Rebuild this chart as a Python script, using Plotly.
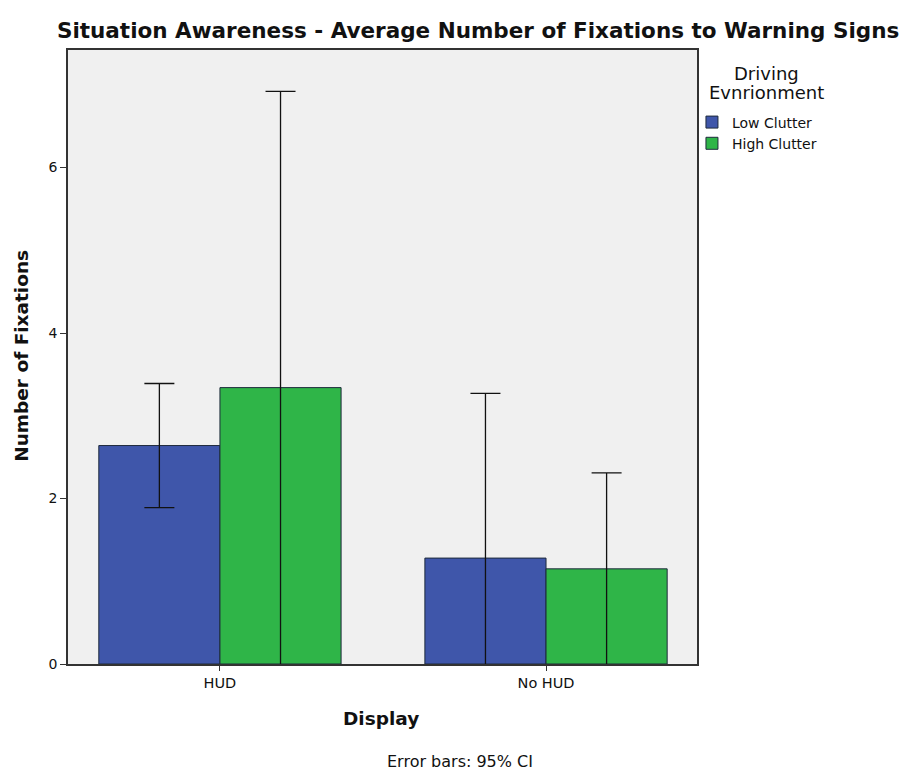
import plotly.graph_objects as go

categories = ["HUD", "No HUD"]
low_clutter = [2.64, 1.28]
low_err_plus = [0.75, 1.99]
low_err_minus = [0.75, 1.99]
high_clutter = [3.34, 1.15]
high_err_plus = [3.58, 1.16]
high_err_minus = [3.58, 1.16]
y_ticks = [0, 2, 4, 6]

blue = "#3F56AA"
green = "#2FB548"
edge = "#1E2A3C"
FONT = "DejaVu Sans, Verdana, sans-serif"

fig = go.Figure()
fig.add_trace(go.Bar(
    x=categories, y=low_clutter, name="Low Clutter",
    marker=dict(color=blue, line=dict(color=edge, width=1)),
    error_y=dict(type="data", array=low_err_plus, arrayminus=low_err_minus,
                 color="#111111", thickness=1.3, width=15),
))
fig.add_trace(go.Bar(
    x=categories, y=high_clutter, name="High Clutter",
    marker=dict(color=green, line=dict(color=edge, width=1)),
    error_y=dict(type="data", array=high_err_plus, arrayminus=high_err_minus,
                 color="#111111", thickness=1.3, width=15),
))

fig.update_layout(
    width=899, height=765,
    paper_bgcolor="white", plot_bgcolor="#F0F0F0",
    margin=dict(l=60, r=210, t=42, b=109, autoexpand=False),
    barmode="group", bargap=0.257, bargroupgap=0,
    font=dict(family=FONT, color="#111111"),
    title=dict(text="<b>Situation Awareness - Average Number of Fixations to Warning Signs</b>",
               xref="paper", x=0.652, xanchor="center", y=0.971, yanchor="middle",
               font=dict(size=21.5, color="#111111")),
    legend=dict(
        x=0.992, xanchor="left", y=0.908, yanchor="top",
        font=dict(size=14), tracegroupgap=0, itemwidth=30,
        bgcolor="rgba(0,0,0,0)",
    ),
    showlegend=True,
)

fig.update_xaxes(
    range=[-0.466, 1.463],
    showline=True, linecolor="#333333", linewidth=1.5, mirror=True,
    ticks="outside", ticklen=5, tickcolor="#333333",
    tickfont=dict(size=14.5),
)
fig.update_yaxes(
    range=[0, 7.42], tickvals=y_ticks,
    showgrid=False, zeroline=False,
    showline=True, linecolor="#333333", linewidth=1.5, mirror=True,
    ticks="outside", ticklen=6, tickcolor="#333333",
    tickfont=dict(size=14),
)

def note(text, x, y, size, bold=False, angle=0):
    fig.add_annotation(
        text=f"<b>{text}</b>" if bold else text, xref="paper", yref="paper",
        x=x, y=y, xanchor="center", yanchor="middle", showarrow=False,
        textangle=angle, font=dict(size=size, color="#111111", family=FONT),
    )

note("Display", 0.498, -0.088, 18.5, bold=True)
note("Number of Fixations", -0.073, 0.502, 18.5, bold=True, angle=-90)
note("Error bars: 95% CI", 0.623, -0.158, 16)
note("Driving", 1.110, 0.961, 18)
note("Evnrionment", 1.110, 0.930, 18)

fig.write_html("out.html")
